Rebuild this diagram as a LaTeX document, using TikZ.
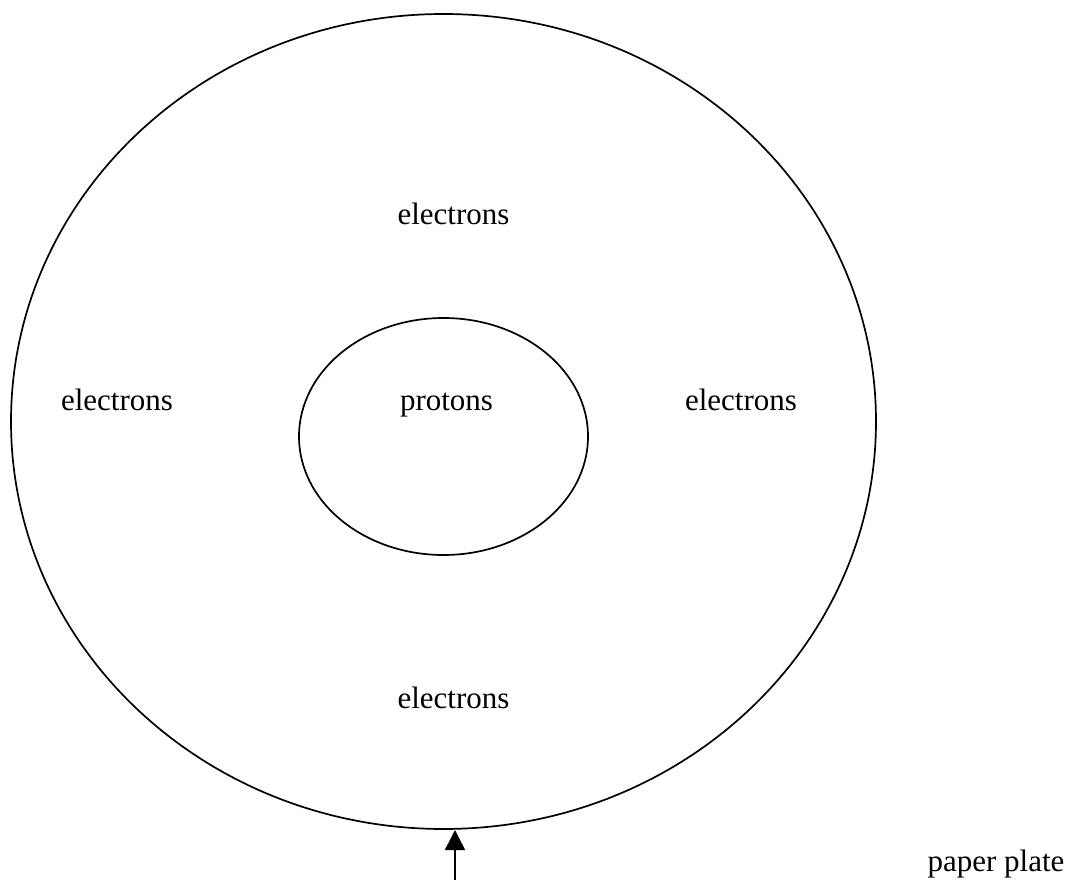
\documentclass[tikz,border=0pt]{standalone}
\usepackage{fontspec}
\setmainfont{Liberation Serif}
\usetikzlibrary{arrows.meta}
\begin{document}
\begin{tikzpicture}[x=1pt,y=-1pt,
  lbl/.style={anchor=base,inner sep=0pt,font=\fontsize{31}{36}\selectfont},
  ring/.style={draw=black,line width=1.7pt}]
\useasboundingbox (0,0) rectangle (1069,880);
\draw[ring] (443.5,421.5) ellipse [x radius=432.5, y radius=407.5];
\draw[ring] (443.5,436.5) ellipse [x radius=144.5, y radius=118.5];
\node[lbl] (etop) at (453.5,225) {electrons};
\node[lbl] (eleft) at (117,410) {electrons};
\node[lbl] (eright) at (741,410) {electrons};
\node[lbl] (ebot) at (453.5,708) {electrons};
\node[lbl] (prot) at (446.5,410) {protons};
\node[lbl] (plate) at (996,871) {paper plate};
\coordinate (tail) at (455,885);
\coordinate (tip) at (455,830);
\draw[line width=1.5pt,-{Triangle[length=20pt,width=20pt]}] (tail) -- (tip);
\end{tikzpicture}
\end{document}
